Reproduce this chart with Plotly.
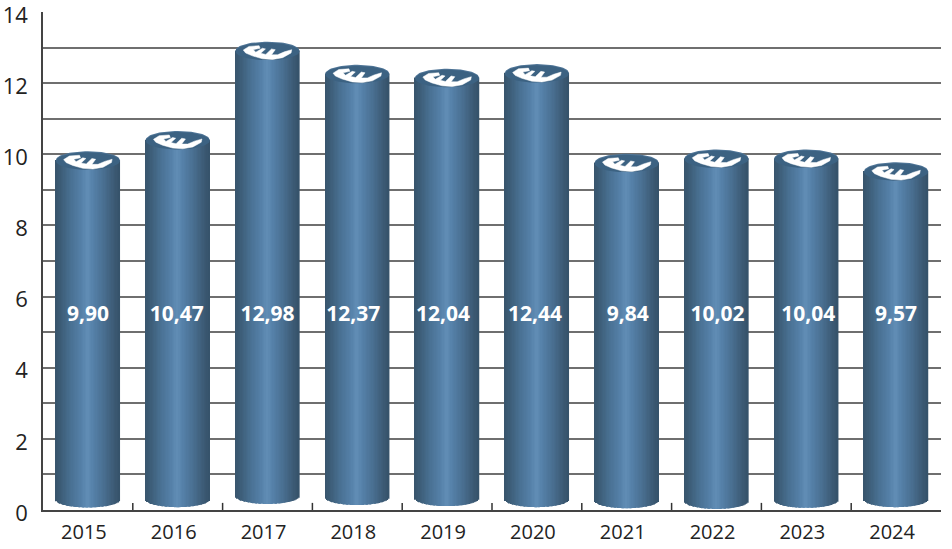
import numpy as np
import plotly.graph_objects as go

years = ["2015", "2016", "2017", "2018", "2019", "2020", "2021", "2022", "2023", "2024"]
labels = ["9,90", "10,47", "12,98", "12,37", "12,04", "12,44", "9,84", "10,02", "10,04", "9,57"]
# heights of the cylinders as drawn in the picture (centre of the top ellipse)
values = [9.84, 10.41, 12.92, 12.27, 12.16, 12.29, 9.77, 9.89, 9.89, 9.53]
bottoms = [0.07, 0.08, 0.17, 0.14, 0.11, 0.08, 0.05, 0.03, 0.06, 0.08]
label_nudge = [0, -1, 0, -4, -4, -2, 1, 1, 2, 0]   # label offset from bar centre, px
grid_levels = [0, 1, 2, 3, 4, 5, 6, 7, 8, 9, 10, 11, 12, 13, 14]
grid_text = ["0", "", "2", "", "4", "", "6", "", "8", "", "10", "", "12", "", "14"]

HALF = 0.356      # half bar width, in category units
CAP = 0.245       # half height of the elliptical cap, in value units
FOOT = 0.22       # half height of the bottom ellipse
xs = np.arange(len(years), dtype=float)
vals = np.array(values)
bots = np.array(bottoms)

stops_u = [-1, -0.85, -0.5, -0.16, 0.0, 0.16, 0.5, 0.85, 1]
stops_r = [56, 60, 74, 86, 98, 86, 74, 60, 54]
stops_g = [84, 92, 114, 130, 142, 130, 112, 90, 82]
stops_b = [108, 118, 148, 170, 182, 170, 146, 116, 106]


def shade(u):
    return "rgb(%d,%d,%d)" % (
        np.interp(u, stops_u, stops_r),
        np.interp(u, stops_u, stops_g),
        np.interp(u, stops_u, stops_b),
    )


fig = go.Figure()

# cylinder bodies: narrow overlaid bars giving the horizontal gradient
N = 48
strip = 2 * HALF / N
for k in range(N):
    u0 = -1 + 2 * k / N
    um = u0 + 1 / N
    curve = np.sqrt(max(0.0, 1 - um * um))
    base = bots + FOOT - FOOT * curve
    fig.add_trace(go.Bar(
        x=xs, y=vals - base, base=base,
        width=strip * 1.25, offset=u0 * HALF - strip * 0.12,
        marker=dict(color=shade(um), line=dict(width=0)),
        hoverinfo="skip", showlegend=False,
    ))

# caps
t = np.linspace(0, 2 * np.pi, 73)
for lift, col in ((0.0, "rgb(78,116,150)"), (-0.03, "rgb(60,98,130)")):
    cx, cy = [], []
    for x0, v in zip(xs, vals):
        cx += list(x0 + HALF * np.cos(t)) + [None]
        cy += list(v + lift + CAP * np.sin(t)) + [None]
    fig.add_trace(go.Scatter(x=cx, y=cy, mode="lines", fill="toself", fillcolor=col,
                             line=dict(width=0), hoverinfo="skip", showlegend=False))

# flattened euro sign on every cap: glyph outline, u/v relative to the cap ellipse
glyph_px = [(38, 37), (55, 27), (85, 25), (88, 32), (68, 36), (75, 43), (95, 32), (104, 34),
            (90, 46), (105, 49), (122, 34), (133, 36), (122, 50), (140, 50), (160, 42),
            (182, 36), (180, 45), (155, 58), (125, 63), (95, 61), (65, 53), (45, 45), (38, 37)]
glyph_u = [(p[0] - 110) / 95 for p in glyph_px]
glyph_v = [(38 - p[1]) / 24 for p in glyph_px]
ex, ey = [], []
for x0, v in zip(xs, vals):
    ex += [x0 + HALF * p for p in glyph_u] + [None]
    ey += [v + CAP * q for q in glyph_v] + [None]
fig.add_trace(go.Scatter(x=ex, y=ey, mode="lines", fill="toself", fillcolor="white",
                         line=dict(width=0.5, color="white"), hoverinfo="skip", showlegend=False))

# value labels
fig.add_trace(go.Scatter(
    x=xs + np.array(label_nudge) / 90, y=[5.45] * len(xs), mode="text", text=labels,
    textfont=dict(family="Open Sans", size=21, color="white", weight=700),
    hoverinfo="skip", showlegend=False,
))

# x-axis tick marks crossing the baseline
tx, ty = [], []
for b0 in xs[:-1] + 0.5:
    tx += [b0, b0, None]
    ty += [-0.17, 0.2, None]
fig.add_trace(go.Scatter(x=tx, y=ty, mode="lines", line=dict(color="#333333", width=1.5),
                         cliponaxis=False, hoverinfo="skip", showlegend=False))

fig.update_layout(
    width=952, height=549, margin=dict(l=43, r=11, t=12, b=39, autoexpand=False),
    paper_bgcolor="white", plot_bgcolor="white", barmode="overlay",
    showlegend=False, font=dict(family="Open Sans", color="#222222"),
    xaxis=dict(range=[-0.5, 9.5], tickmode="array", tickvals=list(xs), ticktext=years,
               automargin=False,
               showgrid=False, zeroline=False, showline=True, linecolor="#444444", linewidth=1.6,
               ticks="", ticklabelstandoff=3, ticklabelshift=-4,
               tickfont=dict(size=20, color="#222222")),
    yaxis=dict(range=[0, 14], tickmode="array", tickvals=grid_levels, ticktext=grid_text,
               automargin=False,
               showgrid=True, gridcolor="#6f6f6f", gridwidth=1.6, zeroline=False,
               showline=True, linecolor="#444444", linewidth=1.6, ticks="",
               ticklabelstandoff=9, ticklabelshift=3, ticklabeloverflow="allow",
               tickfont=dict(size=22, color="#222222")),
)
fig.write_html("out.html", post_script="document.body.style.margin='0';",
               config={"displayModeBar": False})
